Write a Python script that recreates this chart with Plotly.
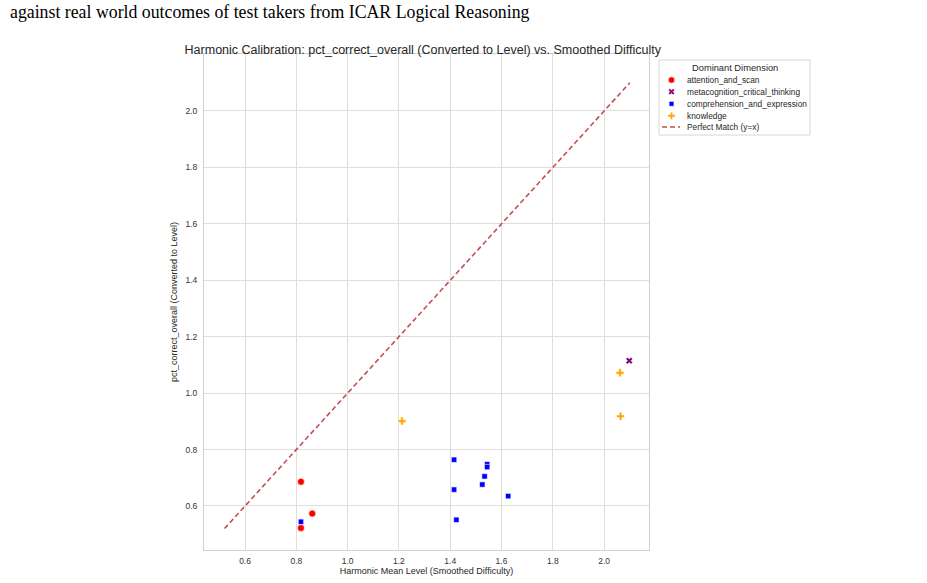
import plotly.graph_objects as go

# ---- data ----
attention_x = [0.818, 0.862, 0.818]
attention_y = [0.686, 0.573, 0.522]

metacog_x = [2.098]
metacog_y = [1.115]

comprehension_x = [0.818, 1.415, 1.544, 1.544, 1.534, 1.525, 1.415, 1.626, 1.424]
comprehension_y = [0.544, 0.764, 0.748, 0.738, 0.705, 0.676, 0.658, 0.635, 0.551]

knowledge_x = [1.212, 2.062, 2.064]
knowledge_y = [0.901, 1.072, 0.918]

match_x = [0.52, 2.10]
match_y = [0.52, 2.10]

x_ticks = [0.6, 0.8, 1.0, 1.2, 1.4, 1.6, 1.8, 2.0]
y_ticks = [0.6, 0.8, 1.0, 1.2, 1.4, 1.6, 1.8, 2.0]

legend_names = ["attention_and_scan", "metacognition_critical_thinking",
                "comprehension_and_expression", "knowledge", "Perfect Match (y=x)"]

# ---- layout (pixels) ----
W, H = 927, 583
L, R, T, B = 204, 649, 54, 550
FONT = "Liberation Sans, Arial, sans-serif"
TXT = "#262626"

series = [
    dict(x=attention_x, y=attention_y, symbol="circle", size=7, color="red"),
    dict(x=metacog_x, y=metacog_y, symbol="x", size=6.2, color="purple"),
    dict(x=comprehension_x, y=comprehension_y, symbol="square", size=5.4, color="blue"),
    dict(x=knowledge_x, y=knowledge_y, symbol="cross", size=6.6, color="orange"),
]
LINE_COLOR = "#c44e52"

fig = go.Figure()
edge = dict(color="white", width=0.6)
for name, s in zip(legend_names, series):
    fig.add_trace(go.Scatter(x=s["x"], y=s["y"], mode="markers", name=name, showlegend=False,
                             marker=dict(symbol=s["symbol"], size=s["size"], color=s["color"], line=edge),
                             xaxis="x", yaxis="y"))
fig.add_trace(go.Scatter(x=match_x, y=match_y, mode="lines", name=legend_names[4], showlegend=False,
                         line=dict(color=LINE_COLOR, width=1.6, dash="5px,3px"), xaxis="x", yaxis="y"))

# ---- hand-built legend on a pixel overlay subplot ----
LEG_X0, LEG_X1, LEG_Y0, LEG_Y1 = 659, 810, 60, 135
row_y = [80, 91.7, 103.8, 115.8, 127]
mark_x = 671.5
text_x = 685

fig.add_shape(type="rect", xref="x2", yref="y2", x0=LEG_X0, x1=LEG_X1, y0=LEG_Y0, y1=LEG_Y1,
              line=dict(color="#d6d6d6", width=1), fillcolor="white", layer="below")
for i, s in enumerate(series):
    fig.add_trace(go.Scatter(x=[mark_x], y=[row_y[i]], mode="markers", showlegend=False, hoverinfo="skip",
                             marker=dict(symbol=s["symbol"], size=s["size"] - 0.5, color=s["color"], line=edge),
                             xaxis="x2", yaxis="y2"))
fig.add_trace(go.Scatter(x=[662, 680], y=[row_y[4], row_y[4]], mode="lines", showlegend=False, hoverinfo="skip",
                         line=dict(color=LINE_COLOR, width=1.6, dash="5px,3px"), xaxis="x2", yaxis="y2"))
for i, name in enumerate(legend_names):
    fig.add_annotation(text=name, xref="x2", yref="y2", x=text_x, y=row_y[i], xanchor="left", yanchor="middle",
                       showarrow=False, font=dict(family=FONT, size=8.3, color=TXT))
fig.add_annotation(text="Dominant Dimension", xref="x2", yref="y2", x=(LEG_X0 + LEG_X1) / 2, y=68.3,
                   xanchor="center", yanchor="middle", showarrow=False, font=dict(family=FONT, size=9.3, color=TXT))

# caption text above the chart
fig.add_annotation(text="against real world outcomes of test takers from ICAR Logical Reasoning",
                   xref="x2", yref="y2", x=8, y=12, xanchor="left", yanchor="middle", showarrow=False,
                   font=dict(family="Liberation Serif, Times New Roman, serif", size=17.8, color="black"))

axis_common = dict(showgrid=True, gridcolor="#dedede", gridwidth=1, zeroline=False,
                   showline=True, linecolor="#d0d0d0", linewidth=1, mirror=True,
                   ticks="", tickfont=dict(family=FONT, size=8.5, color="#333333"),
                   tickformat=".1f", automargin=False)

fig.update_layout(
    width=W, height=H,
    margin=dict(l=0, r=0, t=0, b=0, autoexpand=False),
    paper_bgcolor="white", plot_bgcolor="rgba(0,0,0,0)",
    font=dict(family=FONT, size=9, color=TXT),
    title=dict(text="Harmonic Calibration: pct_correct_overall (Converted to Level) vs. Smoothed Difficulty",
               x=(L + R) / 2 / W - 0.004, xanchor="center", y=1 - 50 / H, yanchor="middle",
               xref="container", yref="container",
               font=dict(size=12.5, color=TXT)),
    xaxis=dict(domain=[L / W, R / W], anchor="y", range=[0.44, 2.175], tickvals=x_ticks,
               ticklabelstandoff=3, **axis_common,
               title=dict(text="Harmonic Mean Level (Smoothed Difficulty)", standoff=2,
                          font=dict(size=9, color=TXT))),
    yaxis=dict(domain=[1 - B / H, 1 - T / H], anchor="x", range=[0.444, 2.202], tickvals=y_ticks,
               ticklabelstandoff=4, **axis_common,
               title=dict(text="pct_correct_overall (Converted to Level)", standoff=6,
                          font=dict(size=9, color=TXT))),
    xaxis2=dict(domain=[0, 1], anchor="y2", range=[0, W], visible=False, fixedrange=True),
    yaxis2=dict(domain=[0, 1], anchor="x2", range=[H, 0], visible=False, fixedrange=True),
    showlegend=False,
)

fig.write_html("out.html")
